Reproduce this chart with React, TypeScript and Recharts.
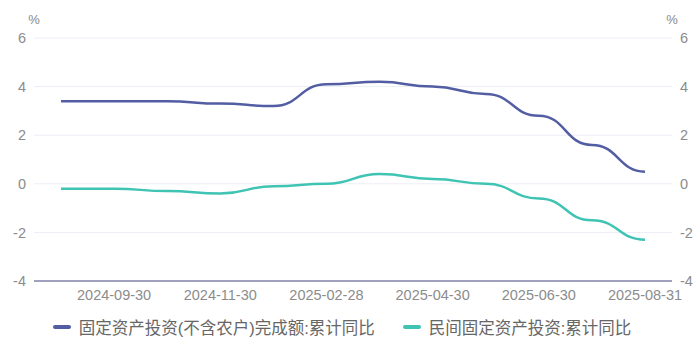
import React from 'react';
import { LineChart, Line, XAxis, YAxis, CartesianGrid, Legend } from 'recharts';

const dates = [
  '2024-08-31', '2024-09-30', '2024-10-31', '2024-11-30', '2024-12-31', '2025-02-28',
  '2025-03-31', '2025-04-30', '2025-05-31', '2025-06-30', '2025-07-31', '2025-08-31',
];
const faiYoy = [3.4, 3.4, 3.4, 3.3, 3.2, 4.1, 4.2, 4.0, 3.7, 2.8, 1.6, 0.5];
const privateYoy = [-0.2, -0.2, -0.3, -0.4, -0.1, 0.0, 0.4, 0.2, 0.0, -0.6, -1.5, -2.3];
const yTicks = [-4, -2, 0, 2, 4, 6];

const faiName = '固定资产投资(不含农户)完成额:累计同比';
const privateName = '民间固定资产投资:累计同比';

const data = dates.map((d, i) => ({ date: d, fai: faiYoy[i], priv: privateYoy[i] }));

const FONT = "'Liberation Sans', 'Noto Sans CJK SC', sans-serif";
const BLUE = '#525da3';
const TEAL = '#3fc4b4';

const renderLegend = () => (
  <div style={{ height: 45, display: 'flex', justifyContent: 'center', paddingTop: 6, paddingRight: 16, boxSizing: 'border-box', fontFamily: FONT, fontSize: 16.5, color: '#666' }}>
    {[{ name: faiName, color: BLUE }, { name: privateName, color: TEAL }].map((it, i) => (
      <div key={i} style={{ display: 'flex', alignItems: 'center', marginRight: i === 0 ? 28 : 0, height: 20 }}>
        <span style={{ display: 'inline-block', width: 18, height: 4, borderRadius: 2, background: it.color, marginRight: 8 }} />
        <span>{it.name}</span>
      </div>
    ))}
  </div>
);

const unitLabel = (side: 'left' | 'right') => (props: any) => {
  const vb = props.viewBox;
  const x = side === 'left' ? vb.x + vb.width : vb.x;
  return (
    <text x={x} y={vb.y - 14} textAnchor="middle" fill="#888" fontSize={13} fontFamily={FONT}>%</text>
  );
};

export default function App() {
  return (
    <div style={{ position: 'absolute', left: 0, top: 0, background: '#fff' }}>
      <LineChart width={700} height={356} data={data} margin={{ top: 38, right: 0, bottom: 0, left: 0 }}>
        <CartesianGrid horizontal vertical={false} stroke="#eceef5" yAxisId="left" />
        <XAxis
          dataKey="date"
          interval={0}
          padding={{ left: 27, right: 27 }}
          tickFormatter={(v: string, i: number) => (i % 2 === 1 ? v : '')}
          tick={{ fill: '#8c8c8c', fontSize: 14.5, fontFamily: FONT }}
          tickLine={false}
          tickSize={0}
          tickMargin={9}
          height={30}
          axisLine={{ stroke: '#8585a8', strokeWidth: 1.5 }}
        />
        <YAxis
          yAxisId="left"
          domain={[-4, 6]}
          ticks={yTicks}
          width={34}
          axisLine={false}
          tickLine={false}
          tickSize={0}
          tickMargin={8}
          tick={{ fill: '#8c8c8c', fontSize: 14.5, fontFamily: FONT }}
          label={{ content: unitLabel('left') }}
        />
        <YAxis
          yAxisId="right"
          orientation="right"
          domain={[-4, 6]}
          ticks={yTicks}
          width={28}
          axisLine={false}
          tickLine={false}
          tickSize={0}
          tickMargin={8}
          tick={{ fill: '#8c8c8c', fontSize: 14.5, fontFamily: FONT }}
          label={{ content: unitLabel('right') }}
        />
        <Legend verticalAlign="bottom" content={renderLegend} />
        <Line yAxisId="left" type="bumpX" dataKey="fai" name={faiName} stroke={BLUE} strokeWidth={2.5} dot={false} isAnimationActive={false} />
        <Line yAxisId="right" type="bumpX" dataKey="priv" name={privateName} stroke={TEAL} strokeWidth={2.5} dot={false} isAnimationActive={false} />
      </LineChart>
    </div>
  );
}
